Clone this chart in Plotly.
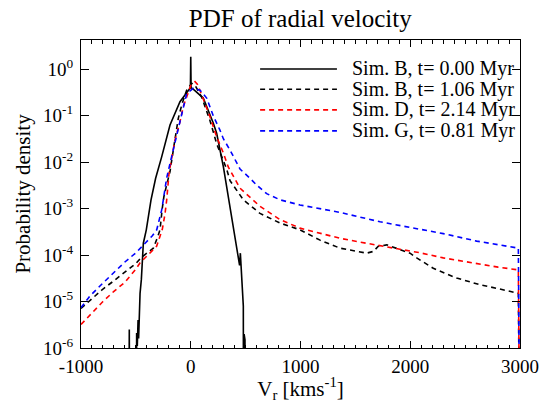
import plotly.graph_objects as go

# ---------------- data ----------------
series_names = [
    "Sim. B, t= 0.00 Myr",
    "Sim. B, t= 1.06 Myr",
    "Sim. D, t= 2.14 Myr",
    "Sim. G, t= 0.81 Myr",
]
series_colors = ["black", "black", "red", "blue"]

# Sim. B, t=0.00 Myr (solid)
vB0 = [-600, -565, -560, -555, -497, -493, -487, -480, -475, -462, -450, -432, -405,
       -362, -320, -265, -189, -98, -22, -3, 0, 3, 20, 114, 205, 236, 297, 358, 419,
       445, 452, 464, 472, 479, 481, 483, 486, 494, 500]
pB0 = [1e-9, 1e-9, 2.5e-6, 1e-9, 1e-9, 2.1e-6, 1.1e-6, 4e-6, 1.6e-6, 1.5e-5, 3e-5,
       1.8e-4, 3.5e-4, 1.55e-3, 4.5e-3, 1.3e-2, 6.3e-2, 0.2, 0.36, 0.4, 1.85, 0.4, 0.38,
       0.24, 7e-2, 4.2e-2, 8e-3, 1.1e-3, 1.55e-4, 6e-5, 1.1e-4, 4e-5, 1.5e-5, 8e-6,
       1e-9, 1e-9, 2e-6, 1.5e-6, 1e-9]

# Sim. B, t=1.06 Myr (dashed black)
vB1 = [-1000, -900, -800, -700, -600, -500, -450, -400, -341, -300, -280, -260, -245,
       -220, -189, -150, -113, -80, -37, 9, 40, 100, 175, 236, 282, 327, 358, 449, 479,
       631, 813, 995, 1178, 1360, 1512, 1603, 1664, 1709, 1786, 1877, 1998, 2059, 2210,
       2423, 2636, 2800, 2985, 3000]
pB1 = [7.1e-6, 1.17e-5, 1.86e-5, 2.8e-5, 4.4e-5, 6.6e-5, 8.9e-5, 1.12e-4, 1.41e-4,
       2.5e-4, 3.5e-4, 1e-3, 1.8e-3, 3.2e-3, 6.3e-3, 2.5e-2, 8.9e-2, 0.178, 0.355, 0.5,
       0.447, 0.25, 7.9e-2, 2.5e-2, 1.26e-2, 7.1e-3, 4e-3, 2e-3, 1.55e-3, 7.9e-4, 4.9e-4,
       3.5e-4, 2.1e-4, 1.41e-4, 1.2e-4, 1.1e-4, 1.2e-4, 1.55e-4, 1.66e-4, 1.41e-4,
       1.1e-4, 8.7e-5, 5.2e-5, 3.2e-5, 2.3e-5, 1.9e-5, 1.5e-5, 1e-9]

# Sim. D, t=2.14 Myr (dashed red)
vD = [-1000, -918, -800, -700, -600, -500, -462, -400, -311, -260, -235, -219, -198,
      -144, -100, -68, -37, 0, 39, 60, 100, 175, 236, 297, 342, 449, 631, 813, 995,
      1178, 1360, 1543, 1725, 1907, 2089, 2301, 2605, 2800, 2985, 3000]
pD = [3.2e-6, 5.2e-6, 1e-5, 1.66e-5, 2.6e-5, 5e-5, 6.8e-5, 9.5e-5, 1.55e-4, 3.5e-4,
      7.6e-4, 1.55e-3, 5.8e-3, 3e-2, 7.1e-2, 0.158, 0.25, 0.447, 0.54, 0.48, 0.28,
      9.5e-2, 3.5e-2, 1.58e-2, 7.9e-3, 2.75e-3, 1.12e-3, 5.8e-4, 3.8e-4, 3e-4, 2.3e-4,
      1.9e-4, 1.58e-4, 1.32e-4, 1.12e-4, 8.7e-5, 6.5e-5, 5.5e-5, 4.8e-5, 1e-9]

# Sim. G, t=0.81 Myr (dashed blue)
vG = [-1000, -918, -800, -700, -600, -500, -432, -350, -310, -265, -250, -220, -174,
      -98, -37, 23, 84, 145, 205, 266, 297, 358, 388, 449, 540, 601, 692, 813, 995,
      1178, 1360, 1725, 2028, 2301, 2605, 2985, 3000]
pG = [7.4e-6, 1.32e-5, 2.5e-5, 4.3e-5, 7.1e-5, 1.12e-4, 1.66e-4, 2.6e-4, 3.5e-4,
      9.3e-4, 1.55e-3, 4.5e-3, 1.32e-2, 6.9e-2, 0.3, 0.39, 0.355, 0.24, 0.1, 4.9e-2,
      3.2e-2, 1.82e-2, 1.32e-2, 7.1e-3, 4.5e-3, 3.2e-3, 2.1e-3, 1.55e-3, 1.2e-3, 1e-3,
      8.3e-4, 5.2e-4, 3.8e-4, 2.9e-4, 2e-4, 1.41e-4, 1e-9]

x_tickvals = [-1000, 0, 1000, 2000, 3000]
x_ticktext = ["-1000", "0", "1000", "2000", "3000"]
y_exponents = [0, -1, -2, -3, -4, -5, -6]

# ---------------- figure ----------------
FONT = "Liberation Serif"
DASH = "5px,4px"

fig = go.Figure()
xs = [vB0, vB1, vD, vG]
ys = [pB0, pB1, pD, pG]
dashes = ["solid", DASH, DASH, DASH]
for x, y, name, c, d in zip(xs, ys, series_names, series_colors, dashes):
    fig.add_trace(go.Scatter(x=x, y=y, mode="lines", name=name,
                             line=dict(color=c, dash=d, width=1.6),
                             showlegend=False))

# custom legend (paper coordinates)
leg_rows = [0.906, 0.840, 0.773, 0.705]
for name, c, d, yy in zip(series_names, series_colors, dashes, leg_rows):
    fig.add_shape(type="line", xref="paper", yref="paper",
                  x0=0.408, x1=0.583, y0=yy, y1=yy,
                  line=dict(color=c, dash=d, width=1.6))
    fig.add_annotation(xref="paper", yref="paper", x=0.613, y=yy,
                       xanchor="left", yanchor="middle", showarrow=False,
                       text=name, font=dict(family=FONT, size=20, color="black"))

fig.update_layout(
    width=555, height=403,
    margin=dict(l=81, r=35, t=40, b=55),
    paper_bgcolor="white", plot_bgcolor="white",
    font=dict(family=FONT, color="black", size=19),
    title=dict(text="PDF of radial velocity", x=0.541, xanchor="center",
               y=1 - 18 / 403, yanchor="middle", yref="container",
               font=dict(family=FONT, size=25, color="black")),
    showlegend=False,
)

fig.update_xaxes(
    range=[-1000, 3000], tickvals=x_tickvals, ticktext=x_ticktext,
    ticks="inside", ticklen=7, tickwidth=1, tickcolor="black",
    showline=True, linecolor="black", linewidth=1, mirror="allticks",
    showgrid=False, zeroline=False, ticklabelstandoff=1, automargin=False,
    minor=dict(dtick=100, ticks="inside", ticklen=3.5, tickcolor="black", showgrid=False),
    tickfont=dict(family=FONT, size=19, color="black"),
    title=dict(text="V<sub>r</sub> [kms<sup>-1</sup>]", standoff=22,
               font=dict(family=FONT, size=21, color="black")),
)

fig.update_yaxes(
    type="log", range=[-6, 0.63],
    tickvals=[10.0 ** e for e in y_exponents],
    ticktext=["10<sup>%d</sup>" % e for e in y_exponents],
    ticks="inside", ticklen=8, tickwidth=1, tickcolor="black",
    showline=True, linecolor="black", linewidth=1, mirror="allticks",
    showgrid=False, zeroline=False, ticklabelstandoff=3, automargin=False,
    tickfont=dict(family=FONT, size=19, color="black"),
    title=dict(text="Probability density", standoff=6,
               font=dict(family=FONT, size=21, color="black")),
)

fig.write_html("out.html")
